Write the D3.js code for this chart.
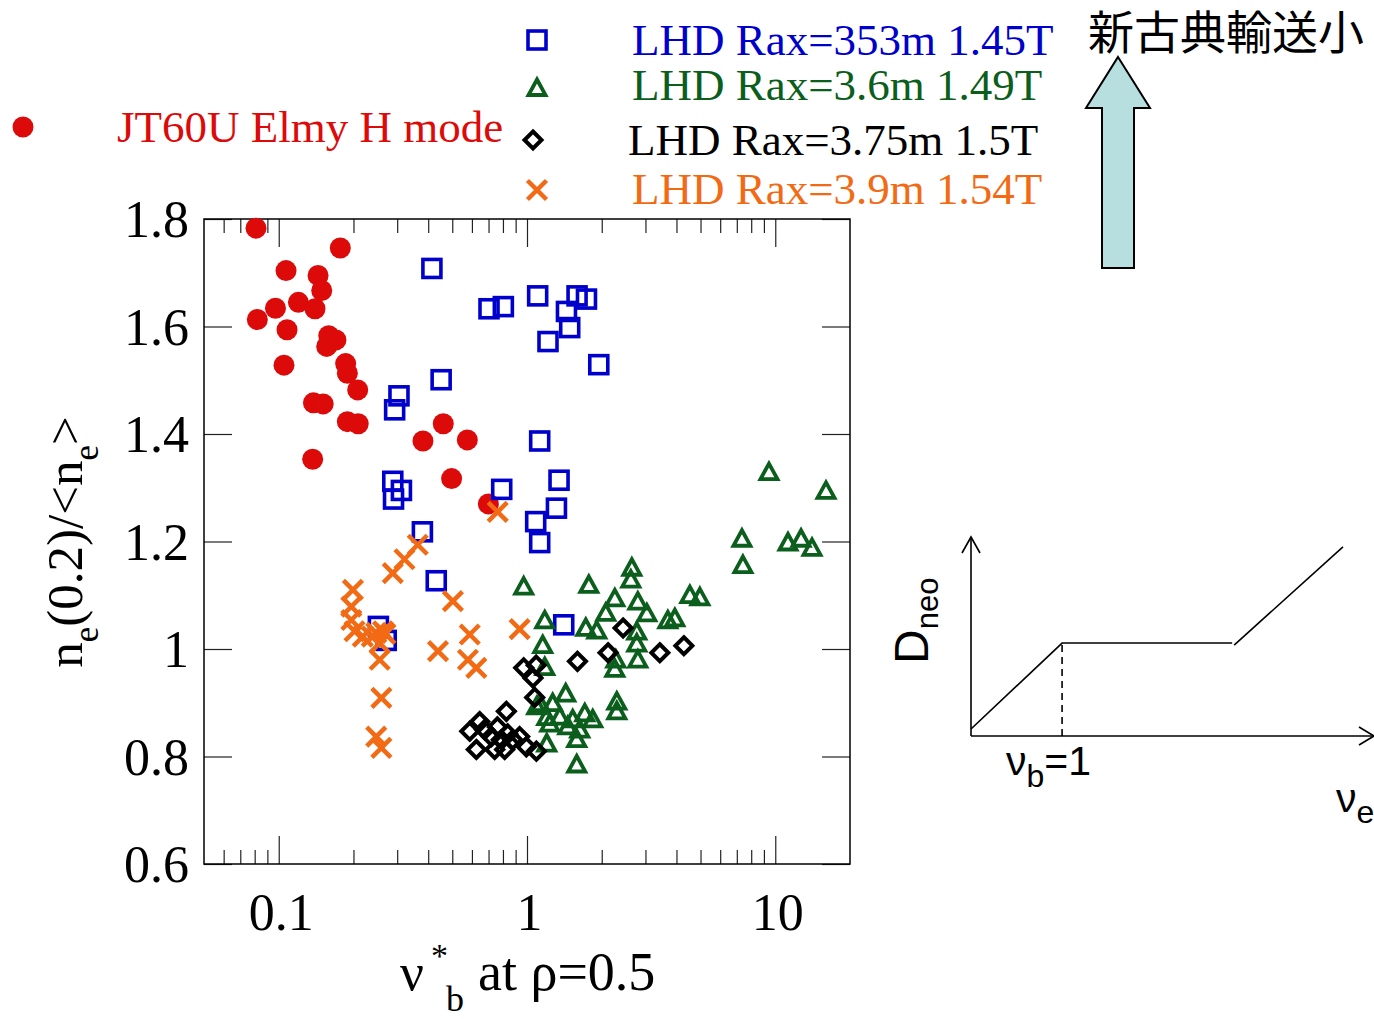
<!DOCTYPE html>
<html>
<head>
<meta charset="utf-8">
<script src="https://cdn.jsdelivr.net/npm/d3@7"></script>
<style>
  body { margin: 0; background: #fff; }
  svg { display: block; }
  .serif { font-family: "Liberation Serif", "Times New Roman", serif; }
  .sans { font-family: "Liberation Sans", Arial, sans-serif; }
</style>
</head>
<body>
<div id="chart"></div>
<script>
// JT60U Elmy H mode : [nu*_b, ne(0.2)/<ne>]
var jt60u = [
  [0.081, 1.783], [0.177, 1.746], [0.107, 1.704], [0.144, 1.695], [0.149, 1.667],
  [0.120, 1.645], [0.097, 1.634], [0.140, 1.633], [0.082, 1.613], [0.108, 1.594],
  [0.159, 1.583], [0.170, 1.575], [0.156, 1.563], [0.105, 1.528], [0.186, 1.531],
  [0.189, 1.513], [0.208, 1.482], [0.138, 1.458], [0.151, 1.456], [0.189, 1.423],
  [0.209, 1.419], [0.137, 1.353], [0.460, 1.419], [0.381, 1.387], [0.575, 1.389],
  [0.497, 1.317], [0.699, 1.270]
];
// LHD Rax=353m 1.45T
var lhd353 = [
  [0.414, 1.708], [0.703, 1.633], [0.803, 1.637], [1.104, 1.657], [1.591, 1.657],
  [1.736, 1.651], [1.442, 1.628], [1.486, 1.598], [1.215, 1.572], [1.946, 1.529],
  [0.451, 1.501], [0.305, 1.471], [0.293, 1.445], [1.125, 1.387], [0.288, 1.312],
  [0.312, 1.295], [0.290, 1.279], [0.791, 1.297], [1.346, 1.314], [1.314, 1.262],
  [1.084, 1.237], [1.125, 1.198], [0.379, 1.218], [0.431, 1.127], [1.406, 1.045],
  [0.252, 1.042], [0.271, 1.016]
];
// LHD Rax=3.6m 1.49T
var lhd36 = [
  [0.970, 1.118], [1.774, 1.121], [2.644, 1.153], [2.619, 1.131], [2.258, 1.096],
  [2.795, 1.090], [3.039, 1.068], [2.076, 1.069], [1.725, 1.041], [1.910, 1.036],
  [2.768, 1.034], [2.768, 1.012], [2.795, 0.982], [2.258, 0.965], [2.279, 0.982],
  [3.692, 1.055], [3.940, 1.059], [4.529, 1.102], [4.970, 1.098], [1.179, 1.055],
  [1.157, 1.009], [1.179, 0.968], [2.300, 0.904], [2.300, 0.886], [1.432, 0.919],
  [1.269, 0.901], [1.125, 0.901], [1.201, 0.875], [1.355, 0.876], [1.528, 0.871],
  [1.709, 0.882], [1.840, 0.871], [1.201, 0.826], [1.586, 0.834], [1.586, 0.787],
  [1.094, 0.895], [1.235, 0.863], [1.459, 0.858], [1.631, 0.852], [9.433, 1.331],
  [16.01, 1.296], [7.340, 1.207], [7.409, 1.158], [11.25, 1.200], [12.70, 1.207],
  [14.06, 1.190]
];
// LHD Rax=3.75m 1.5T
var lhd375 = [
  [2.438, 1.039], [2.121, 0.993], [1.597, 0.977], [3.428, 0.993], [4.285, 1.006],
  [0.970, 0.965], [1.089, 0.970], [1.057, 0.946], [1.074, 0.910], [0.826, 0.884],
  [0.588, 0.847], [0.645, 0.865], [0.625, 0.813], [0.675, 0.850], [0.719, 0.837],
  [0.741, 0.813], [0.788, 0.831], [0.836, 0.842], [0.876, 0.831], [0.934, 0.837],
  [0.994, 0.818], [1.091, 0.810], [0.813, 0.813], [0.760, 0.855]
];
// LHD Rax=3.9m 1.54T
var lhd39 = [
  [0.363, 1.194], [0.321, 1.167], [0.288, 1.141], [0.199, 1.110], [0.196, 1.079],
  [0.196, 1.054], [0.202, 1.033], [0.218, 1.023], [0.247, 1.030], [0.263, 1.033],
  [0.255, 1.011], [0.255, 0.980], [0.259, 0.909], [0.247, 0.837], [0.259, 0.816],
  [0.503, 1.089], [0.438, 0.996], [0.588, 1.027], [0.578, 0.980], [0.625, 0.965],
  [0.934, 1.037], [0.762, 1.255], [0.237, 1.023], [0.269, 1.028]
];

var seriesNames = ["JT60U Elmy H mode", "LHD Rax=353m 1.45T", "LHD Rax=3.6m 1.49T",
                   "LHD Rax=3.75m 1.5T", "LHD Rax=3.9m 1.54T"];
var xTickValues = [0.1, 1, 10];
var xTickLabels = ["0.1", "1", "10"];
var yTickValues = [0.6, 0.8, 1.0, 1.2, 1.4, 1.6, 1.8];
var yTickLabels = ["0.6", "0.8", "1", "1.2", "1.4", "1.6", "1.8"];

// schematic inset: D_neo vs nu (arbitrary units)
var dneoCurveA = [[0.0, 0.035], [0.226, 0.467], [0.648, 0.467]];
var dneoCurveB = [[0.653, 0.457], [0.923, 0.950]];
var nuB = 0.226;

var width = 1374, height = 1019;
var plot = { left: 204, right: 850, top: 219, bottom: 864 };

var red = "#dd0a0a", blue = "#0000cc", green = "#0b5e1c", orange = "#f26a13";

var svg = d3.select("#chart").append("svg")
  .attr("width", width)
  .attr("height", height);

var x = d3.scaleLog().domain([0.05, 20]).range([plot.left, plot.right]);
var y = d3.scaleLinear().domain([0.6, 1.8]).range([plot.bottom, plot.top]);

var minorX = x.ticks().filter(function(v) {
  var l = Math.log10(v);
  return Math.abs(l - Math.round(l)) > 1e-6 && v > 0.05 && v < 20;
});

function styleAxis(g) {
  g.select(".domain").remove();
  g.selectAll(".tick line").attr("stroke", "#222").attr("stroke-width", 1.2);
}

// bottom axis (ticks pointing up)
svg.append("g")
  .attr("transform", "translate(0," + plot.bottom + ")")
  .call(d3.axisBottom(x).tickValues(xTickValues).tickSizeInner(-28).tickSizeOuter(0)
    .tickFormat(function(d, i) { return xTickLabels[i]; }))
  .call(styleAxis)
  .call(function(g) {
    g.selectAll(".tick text")
      .attr("class", "serif")
      .attr("x", 2).attr("y", 66).attr("dy", 0)
      .style("font-size", "52px").attr("fill", "#000");
  });
svg.append("g")
  .attr("transform", "translate(0," + plot.bottom + ")")
  .call(d3.axisBottom(x).tickValues(minorX).tickSizeInner(-14).tickSizeOuter(0).tickFormat(""))
  .call(styleAxis);

// top axis (ticks pointing down)
svg.append("g")
  .attr("transform", "translate(0," + plot.top + ")")
  .call(d3.axisBottom(x).tickValues(xTickValues).tickSizeInner(28).tickSizeOuter(0).tickFormat(""))
  .call(styleAxis);
svg.append("g")
  .attr("transform", "translate(0," + plot.top + ")")
  .call(d3.axisBottom(x).tickValues(minorX).tickSizeInner(14).tickSizeOuter(0).tickFormat(""))
  .call(styleAxis);

// left axis
svg.append("g")
  .attr("transform", "translate(" + plot.left + ",0)")
  .call(d3.axisLeft(y).tickValues(yTickValues).tickSizeInner(-28).tickSizeOuter(0)
    .tickFormat(function(d, i) { return yTickLabels[i]; }))
  .call(styleAxis)
  .call(function(g) {
    g.selectAll(".tick text")
      .attr("class", "serif")
      .attr("x", -15).attr("dy", "0.34em")
      .style("font-size", "52px").attr("fill", "#000");
  });

// right axis
svg.append("g")
  .attr("transform", "translate(" + plot.right + ",0)")
  .call(d3.axisRight(y).tickValues(yTickValues).tickSizeInner(-28).tickSizeOuter(0).tickFormat(""))
  .call(styleAxis);

// frame
svg.append("rect")
  .attr("x", plot.left).attr("y", plot.top)
  .attr("width", plot.right - plot.left).attr("height", plot.bottom - plot.top)
  .attr("fill", "none").attr("stroke", "#000").attr("stroke-width", 1.5);

// marker shapes
var shapes = {
  circle: function(sel, c) {
    sel.append("circle").attr("r", 10.5).attr("fill", c);
  },
  square: function(sel, c) {
    sel.append("rect").attr("x", -9).attr("y", -9).attr("width", 18).attr("height", 18)
      .attr("fill", "none").attr("stroke", c).attr("stroke-width", 3.6);
  },
  triangle: function(sel, c) {
    sel.append("path").attr("d", "M0,-7.5L8.5,8L-8.5,8Z")
      .attr("fill", "none").attr("stroke", c).attr("stroke-width", 3.8);
  },
  diamond: function(sel, c) {
    sel.append("path").attr("d", "M0,-8.5L8.5,0L0,8.5L-8.5,0Z")
      .attr("fill", "none").attr("stroke", c).attr("stroke-width", 4);
  },
  cross: function(sel, c) {
    sel.append("path").attr("d", "M-9.5,-9.5L9.5,9.5M-9.5,9.5L9.5,-9.5")
      .attr("fill", "none").attr("stroke", c).attr("stroke-width", 4.5);
  }
};

function drawSeries(data, shape, color) {
  var g = svg.append("g").selectAll("g")
    .data(data)
    .enter().append("g")
    .attr("transform", function(d) { return "translate(" + x(d[0]) + "," + y(d[1]) + ")"; });
  shapes[shape](g, color);
}

drawSeries(jt60u, "circle", red);
drawSeries(lhd353, "square", blue);
drawSeries(lhd36, "triangle", green);
drawSeries(lhd375, "diamond", "#000");
drawSeries(lhd39, "cross", orange);

// legend
var legend = [
  { name: seriesNames[0], shape: "circle", color: red, mx: 23, my: 127, tx: 117, ty: 142 },
  { name: seriesNames[1], shape: "square", color: blue, mx: 537, my: 40, tx: 632, ty: 55 },
  { name: seriesNames[2], shape: "triangle", color: green, mx: 537, my: 87, tx: 632, ty: 100 },
  { name: seriesNames[3], shape: "diamond", color: "#000", mx: 533, my: 140, tx: 628, ty: 155 },
  { name: seriesNames[4], shape: "cross", color: orange, mx: 537, my: 190, tx: 632, ty: 204 }
];
legend.forEach(function(l) {
  var g = svg.append("g").attr("transform", "translate(" + l.mx + "," + l.my + ")");
  shapes[l.shape](g, l.color);
  svg.append("text").attr("class", "serif")
    .attr("x", l.tx).attr("y", l.ty)
    .style("font-size", "45px").attr("fill", l.color)
    .text(l.name);
});

// y-axis title
var yt = svg.append("text").attr("class", "serif")
  .attr("transform", "translate(82,542) rotate(-90)")
  .attr("text-anchor", "middle")
  .style("font-size", "51px");
yt.append("tspan").text("n");
yt.append("tspan").attr("dy", 16).style("font-size", "35px").text("e");
yt.append("tspan").attr("dy", -16).text("(0.2)/<n");
yt.append("tspan").attr("dy", 16).style("font-size", "35px").text("e");
yt.append("tspan").attr("dy", -16).text(">");

// x-axis title
svg.append("text").attr("class", "serif").attr("x", 400).attr("y", 990)
  .style("font-size", "53px").text("\u03bd");
svg.append("text").attr("class", "serif").attr("x", 431).attr("y", 967)
  .style("font-size", "34px").text("*");
svg.append("text").attr("class", "serif").attr("x", 446).attr("y", 1011)
  .style("font-size", "36px").text("b");
svg.append("text").attr("class", "serif").attr("x", 478).attr("y", 990)
  .style("font-size", "54px").text("at \u03c1=0.5");

// big arrow + label
svg.append("path")
  .attr("d", "M1118,57L1150,108L1134,108L1134,268L1102,268L1102,108L1086,108Z")
  .attr("fill", "#b8dfe0").attr("stroke", "#000").attr("stroke-width", 2)
  .attr("stroke-linejoin", "miter");
svg.append("text")
  .attr("x", 1088).attr("y", 49)
  .style("font-family", "'Noto Sans CJK JP', 'Noto Sans CJK SC', sans-serif")
  .style("font-size", "46px").attr("fill", "#000")
  .text("新古典輸送小");

// inset schematic
var ix = d3.scaleLinear().domain([0, 1]).range([971, 1374]);
var iy = d3.scaleLinear().domain([0, 1]).range([736, 537]);
var inset = svg.append("g").attr("fill", "none").attr("stroke", "#000").attr("stroke-width", 1.6);
var line = d3.line().x(function(d) { return ix(d[0]); }).y(function(d) { return iy(d[1]); });

inset.append("path").attr("d", line([[0, 0], [0, 1]]));
inset.append("path").attr("d", line([[0, 0], [1, 0]]));
inset.append("path").attr("d", "M" + (ix(0) - 9) + "," + (iy(1) + 16) + "L" + ix(0) + "," + iy(1) + "L" + (ix(0) + 9) + "," + (iy(1) + 16));
inset.append("path").attr("d", "M" + (ix(1) - 15) + "," + (iy(0) - 9) + "L" + ix(1) + "," + iy(0) + "L" + (ix(1) - 15) + "," + (iy(0) + 9));
inset.append("path").attr("d", line(dneoCurveA));
inset.append("path").attr("d", line(dneoCurveB));
inset.append("path").attr("d", line([[nuB, 0], [nuB, dneoCurveA[1][1]]]))
  .attr("stroke-dasharray", "7,5");

var dl = svg.append("text").attr("class", "sans")
  .attr("transform", "translate(928,664) rotate(-90)")
  .style("font-size", "48px");
dl.append("tspan").text("D");
dl.append("tspan").attr("dy", 10).style("font-size", "31px").text("neo");

var nb = svg.append("text").attr("class", "sans").attr("x", 1006).attr("y", 775)
  .style("font-size", "41px");
nb.append("tspan").text("\u03bd");
nb.append("tspan").attr("dy", 12).style("font-size", "32px").text("b");
nb.append("tspan").attr("dy", -12).text("=1");

var ne = svg.append("text").attr("class", "sans").attr("x", 1336).attr("y", 812)
  .style("font-size", "41px");
ne.append("tspan").text("\u03bd");
ne.append("tspan").attr("dy", 11).style("font-size", "32px").text("e");
</script>
</body>
</html>
